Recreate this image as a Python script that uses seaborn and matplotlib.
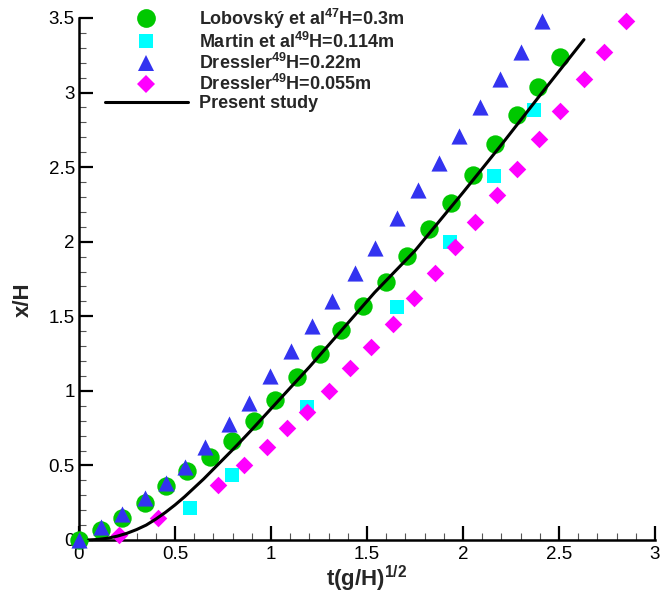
import matplotlib
matplotlib.use("Agg")
import matplotlib.pyplot as plt
import seaborn as sns
import pandas as pd
from matplotlib.lines import Line2D
from matplotlib.ticker import MultipleLocator

# ---- data ----
lob_t = [0, 0.113, 0.223, 0.345, 0.454, 0.562, 0.684, 0.797, 0.91, 1.02, 1.137, 1.253,
         1.366, 1.481, 1.598, 1.707, 1.824, 1.937, 2.054, 2.167, 2.28, 2.393, 2.507]
lob_x = [0, 0.067, 0.146, 0.246, 0.362, 0.463, 0.559, 0.664, 0.799, 0.94, 1.096, 1.248,
         1.409, 1.57, 1.729, 1.906, 2.085, 2.26, 2.45, 2.658, 2.848, 3.038, 3.24]

mar_t = [0.576, 0.797, 1.189, 1.654, 1.93, 2.16, 2.372]
mar_x = [0.217, 0.436, 0.89, 1.562, 2.0, 2.443, 2.886]

d22_t = [0, 0.113, 0.223, 0.345, 0.454, 0.553, 0.658, 0.78, 0.884, 0.995, 1.105, 1.215,
         1.319, 1.438, 1.542, 1.655, 1.765, 1.876, 1.98, 2.09, 2.195, 2.3, 2.411]
d22_x = [0, 0.09, 0.174, 0.28, 0.38, 0.492, 0.622, 0.778, 0.921, 1.1, 1.264, 1.432,
         1.6, 1.79, 1.958, 2.159, 2.35, 2.528, 2.711, 2.904, 3.094, 3.273, 3.479]

d055_t = [0.21, 0.414, 0.722, 0.857, 0.977, 1.081, 1.185, 1.302, 1.412, 1.52, 1.633,
          1.746, 1.855, 1.96, 2.063, 2.178, 2.282, 2.398, 2.503, 2.628, 2.735, 2.851]
d055_x = [0.034, 0.146, 0.372, 0.501, 0.624, 0.749, 0.861, 1.002, 1.152, 1.293, 1.45,
          1.622, 1.79, 1.966, 2.134, 2.315, 2.488, 2.689, 2.874, 3.094, 3.273, 3.479]

sim_t = [0.05, 0.1, 0.15, 0.2, 0.25, 0.3, 0.35, 0.4, 0.45, 0.5, 0.55, 0.6, 0.65, 0.7,
         0.75, 0.8, 0.85, 0.9, 0.95, 1.0, 1.05, 1.1, 1.2, 1.36, 1.54, 1.75, 2.0, 2.2,
         2.4, 2.63]
sim_x = [0, 0.004, 0.012, 0.026, 0.045, 0.07, 0.1, 0.14, 0.185, 0.235, 0.29, 0.35,
         0.41, 0.475, 0.54, 0.605, 0.672, 0.74, 0.81, 0.88, 0.95, 1.02, 1.16, 1.395,
         1.66, 1.94, 2.33, 2.65, 2.98, 3.355]

labels = [r"Lobovský et al$^{47}$H=0.3m",
          r"Martin et al$^{49}$H=0.114m",
          r"Dressler$^{49}$H=0.22m",
          r"Dressler$^{49}$H=0.055m",
          "Present study"]
x_ticks = [0, 0.5, 1, 1.5, 2, 2.5, 3]
y_ticks = [0, 0.5, 1, 1.5, 2, 2.5, 3, 3.5]
x_tick_labels = ["0", "0.5", "1", "1.5", "2", "2.5", "3"]
y_tick_labels = ["0", "0.5", "1", "1.5", "2", "2.5", "3", "3.5"]

# ---- style ----
sns.set_style("ticks")
plt.rcParams["font.family"] = ["Liberation Sans", "DejaVu Sans"]
plt.rcParams["mathtext.fontset"] = "custom"
plt.rcParams["mathtext.rm"] = "Liberation Sans:bold"
plt.rcParams["mathtext.it"] = "Liberation Sans:bold"
plt.rcParams["mathtext.bf"] = "Liberation Sans:bold"

GREEN = "#00C800"
CYAN = "#00FFFF"
BLUE = "#3333F0"
MAGENTA = "#FF00FF"

fig = plt.figure(figsize=(6.71, 5.94), dpi=100)
ax = fig.add_axes([79 / 671, 1 - 540 / 594, 576 / 671, 522 / 594])

series = [
    (lob_t, lob_x, "o", GREEN, 175),
    (mar_t, mar_x, "s", CYAN, 90),
    (d22_t, d22_x, "^", BLUE, 135),
    (d055_t, d055_x, "D", MAGENTA, 80),
]
for (t, x, m, c, s), lab in zip(series, labels[:4]):
    df = pd.DataFrame({"t": t, "x": x})
    sns.scatterplot(data=df, x="t", y="x", ax=ax, marker=m, color=c, s=s,
                    linewidth=0, clip_on=False, zorder=3, legend=False)

df_sim = pd.DataFrame({"t": sim_t, "x": sim_x})
sns.lineplot(data=df_sim, x="t", y="x", ax=ax, color="black", linewidth=2.2,
             zorder=4, legend=False, sort=False)

ax.set_xlim(0, 3)
ax.set_ylim(0, 3.5)
ax.set_xticks(x_ticks)
ax.set_xticklabels(x_tick_labels)
ax.set_yticks(y_ticks)
ax.set_yticklabels(y_tick_labels)
ax.xaxis.set_minor_locator(MultipleLocator(0.1))
ax.yaxis.set_minor_locator(MultipleLocator(0.1))
ax.tick_params(which="major", direction="in", length=10, width=1.6, labelsize=13.5,
               colors="black", pad=3)
ax.tick_params(which="minor", direction="in", length=5, width=0.8, color="#555555")
ax.tick_params(axis="x", which="major", pad=4)

for side in ["top", "right"]:
    ax.spines[side].set_visible(False)
for side in ["left", "bottom"]:
    ax.spines[side].set_linewidth(1.8)
    ax.spines[side].set_color("black")

ax.set_xlabel(r"t(g/H)$^{1/2}$", fontsize=16, fontweight="bold", labelpad=1)
ax.set_ylabel("x/H", fontsize=16, fontweight="bold")
ax.yaxis.set_label_coords(-0.078, 0.46)

handles = [
    Line2D([], [], marker="o", color=GREEN, linestyle="none", markersize=13.5, markeredgewidth=0),
    Line2D([], [], marker="s", color=CYAN, linestyle="none", markersize=9.5, markeredgewidth=0),
    Line2D([], [], marker="^", color=BLUE, linestyle="none", markersize=11.5, markeredgewidth=0),
    Line2D([], [], marker="D", color=MAGENTA, linestyle="none", markersize=9, markeredgewidth=0),
    Line2D([], [], color="black", linewidth=2.2),
]
leg = ax.legend(handles, labels, loc="upper left", bbox_to_anchor=(0.045, 1.022),
                frameon=False, fontsize=13, handlelength=4.6, handletextpad=0.6,
                labelspacing=0.06, borderpad=0, borderaxespad=0)
for txt in leg.get_texts():
    txt.set_fontweight("bold")

fig.savefig("out.png", dpi=100)
